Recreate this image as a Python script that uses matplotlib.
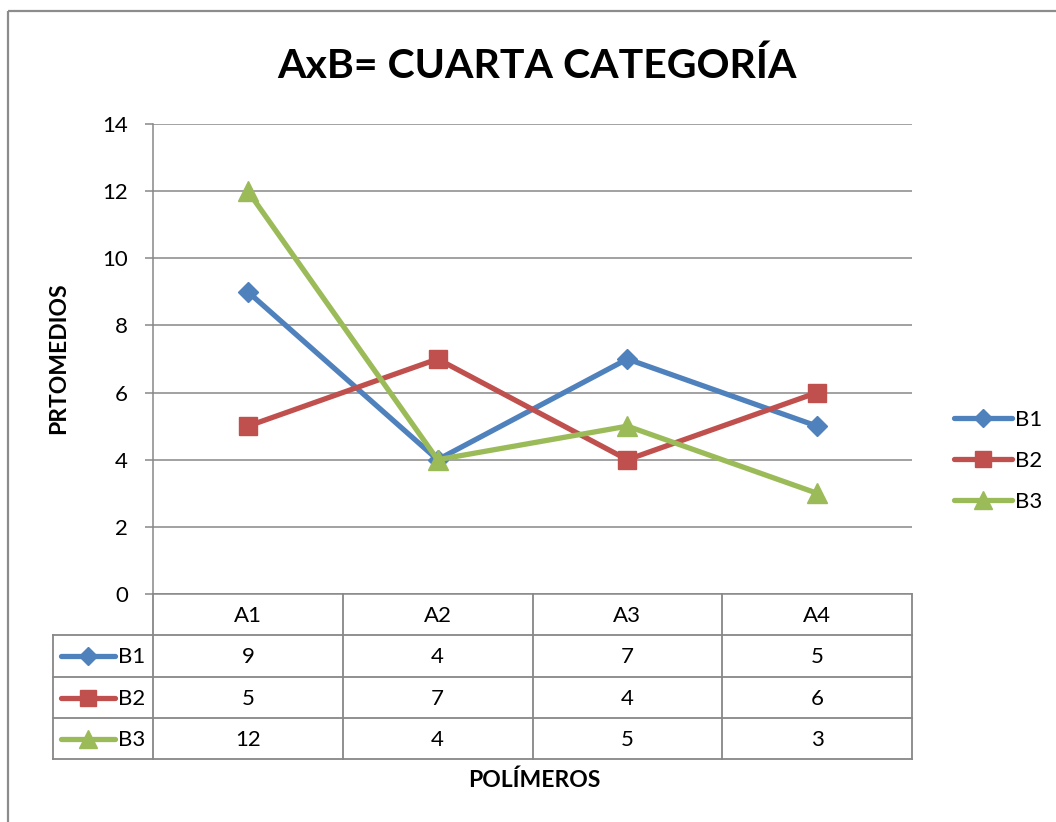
import matplotlib
matplotlib.use("Agg")
import matplotlib.pyplot as plt
from matplotlib.lines import Line2D
from matplotlib.patches import Rectangle
from matplotlib.transforms import blended_transform_factory

categories = ["A1", "A2", "A3", "A4"]
series_names = ["B1", "B2", "B3"]
b1 = [9, 4, 7, 5]
b2 = [5, 7, 4, 6]
b3 = [12, 4, 5, 3]
series_values = [b1, b2, b3]
y_ticks = [0, 2, 4, 6, 8, 10, 12, 14]

colors = ["#4F81BD", "#C0504D", "#9BBB59"]
markers = ["D", "s", "^"]
msizes = [10, 13, 14]
grid_c = "#878787"

plt.rcParams['font.family'] = ['Lato', 'DejaVu Sans']

W, H = 1056, 822
fig = plt.figure(figsize=(W / 100, H / 100), dpi=100)

# overlay axes in pixel coordinates
ov = fig.add_axes([0, 0, 1, 1], zorder=0)
ov.set_xlim(0, W)
ov.set_ylim(H, 0)
ov.axis("off")

# plot area
L, R, T, B = 153, 912, 124, 594
ax = fig.add_axes([L / W, 1 - B / H, (R - L) / W, (B - T) / H], zorder=2)
ax.patch.set_alpha(0)
x = list(range(len(categories)))
for name, vals, c, m, ms in zip(series_names, series_values, colors, markers, msizes):
    ax.plot(x, vals, color=c, lw=3.8, marker=m, markersize=ms, label=name,
            solid_capstyle="round", solid_joinstyle="round", clip_on=False, zorder=3)
ax.set_xlim(-0.5, len(categories) - 0.5)
ax.set_ylim(0, 14)
ax.set_yticks(y_ticks)
ax.set_xticks([])
ax.yaxis.grid(True, color=grid_c, lw=1.1)
ax.set_axisbelow(True)
for s in ["top", "right"]:
    ax.spines[s].set_visible(False)
ax.spines["left"].set_color(grid_c)
ax.spines["bottom"].set_color(grid_c)
ax.spines["left"].set_linewidth(1.1)
ax.spines["bottom"].set_linewidth(1.1)
ax.tick_params(axis="y", length=6, width=1.1, color=grid_c, pad=12, labelsize=16)

# title
ov.text(537, 66, "AxB= CUARTA CATEGORÍA", ha="center", va="center",
        fontsize=29.5, fontweight="bold")

# outer border
ov.add_patch(Rectangle((8, 11.5), 1100, 900, fill=False, edgecolor="#8c8c8c", lw=1.6))

# y label
ov.text(59, 358, "PRTOMEDIOS", rotation=90, ha="center", va="center",
        fontsize=16.5, fontweight="bold")
# x label
ov.text(534, 780, "POLÍMEROS", ha="center", va="center", fontsize=16.5, fontweight="bold")

# data table
bt = blended_transform_factory(ax.transData, ov.transData)
row_edges = [594, 635, 677, 718, 759]
tab_left = 53
lc = grid_c
n = len(categories)
for yv in row_edges[1:]:
    ov.plot([tab_left, R], [yv, yv], color=lc, lw=1.3, zorder=1)
ov.plot([tab_left, tab_left], [row_edges[1], row_edges[-1]], color=lc, lw=1.3)
for i in range(n + 1):
    ov.plot([i - 0.5, i - 0.5], [row_edges[0], row_edges[-1]], color=lc, lw=1.3,
            transform=bt)
for i, cat in enumerate(categories):
    ov.text(i, (row_edges[0] + row_edges[1]) / 2 + 1, cat, transform=bt,
            ha="center", va="center", fontsize=16)
for r, (name, vals, c, m, ms) in enumerate(zip(series_names, series_values, colors, markers, msizes)):
    yc = (row_edges[r + 1] + row_edges[r + 2]) / 2 + 1
    for i, v in enumerate(vals):
        ov.text(i, yc, str(v), transform=bt, ha="center", va="center", fontsize=16)
    ov.add_line(Line2D([61, 115], [yc - 1, yc - 1], color=c, lw=3.8, solid_capstyle="round"))
    ov.add_line(Line2D([88], [yc - 1], color=c, marker=m, markersize=ms * 0.9, lw=0))
    ov.text(118, yc, name, ha="left", va="center", fontsize=16)

# legend
handles = [Line2D([0], [0], color=c, lw=3.8, marker=m, markersize=ms * 0.9,
                  solid_capstyle="round") for c, m, ms in zip(colors, markers, msizes)]
fig.legend(handles, series_names, loc="center left",
           bbox_to_anchor=(945 / W, 1 - 461 / H), frameon=False, fontsize=16,
           handlelength=2.6, handletextpad=0.15, labelspacing=0.95, borderaxespad=0)

fig.savefig("out.png", dpi=100)
